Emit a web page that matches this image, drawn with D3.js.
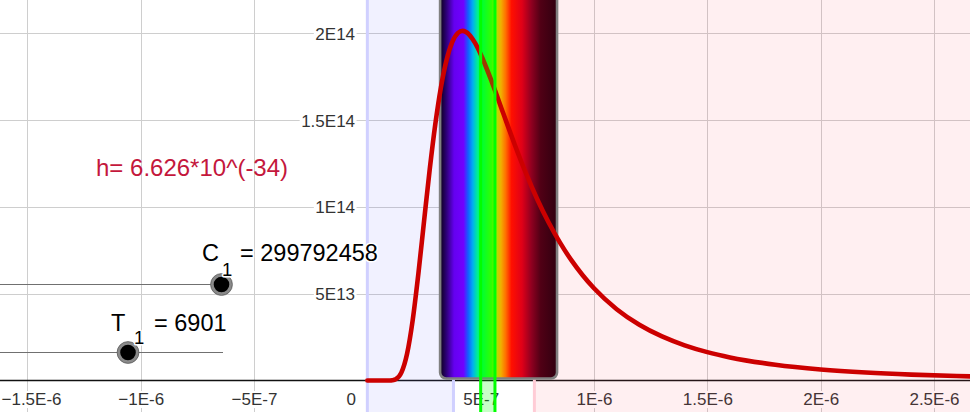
<!DOCTYPE html>
<html><head><meta charset="utf-8">
<script src="https://cdn.jsdelivr.net/npm/d3@7"></script>
<style>
body{margin:0;background:#fff;overflow:hidden}
svg{display:block}
text{font-family:"Liberation Sans",Arial,sans-serif}
</style>
</head><body>
<svg id="c" width="970" height="412"></svg>
<script>
// ---- data ----
// wavelength (micrometres) and spectral exitance (units of 1E14 W/m^3) (T1 = 6901)
const wavelengthUm = [0, 0.05, 0.1, 0.11, 0.125, 0.15, 0.175, 0.2, 0.225, 0.25, 0.275, 0.3, 0.325, 0.35, 0.375, 0.4, 0.42, 0.45, 0.475, 0.5, 0.55, 0.6, 0.65, 0.7, 0.75, 0.8, 0.85, 0.9, 0.95, 1.0, 1.1, 1.2, 1.3, 1.4, 1.5, 1.6, 1.8, 2.0, 2.2, 2.4, 2.6, 2.7];
const exitanceE14 = [0, 0, 0.0003, 0.0014, 0.007, 0.0453, 0.1527, 0.3473, 0.6136, 0.9155, 1.2135, 1.478, 1.6917, 1.8485, 1.9501, 2.0022, 2.014, 1.9913, 1.9444, 1.8796, 1.7175, 1.5378, 1.3597, 1.1934, 1.0431, 0.9102, 0.794, 0.6932, 0.6063, 0.5312, 0.4108, 0.3211, 0.2537, 0.2026, 0.16345, 0.1331, 0.09065, 0.06368, 0.04596, 0.03396, 0.02561, 0.02239];

const xTicks = [-1.5e-6, -1e-6, -5e-7, 0, 5e-7, 1e-6, 1.5e-6, 2e-6, 2.5e-6];
const xTickLabels = ["\u22121.5E-6", "\u22121E-6", "\u22125E-7", "0", "5E-7", "1E-6", "1.5E-6", "2E-6", "2.5E-6"];
const yTicks = [5e13, 1e14, 1.5e14, 2e14];
const yTickLabels = ["5E13", "1E14", "1.5E14", "2E14"];

const uvEdge = 3.8e-7;          // end of ultraviolet shading
const irEdge = 7.37e-7;         // start of infrared shading
const greenBand = [5e-7, 5.63e-7];
const spectrumRange = [3.21e-7, 8.37e-7];
const spectrumColors = [
  [0, "#0c0018"], [0.05, "#2a0070"], [0.12, "#6500f0"], [0.2, "#7000ff"], [0.24, "#1060ff"],
  [0.28, "#00b0f0"], [0.32, "#00f090"], [0.36, "#00ff40"], [0.44, "#40ff00"], [0.48, "#b0e000"],
  [0.52, "#f0b000"], [0.56, "#ff7000"], [0.61, "#ff1000"], [0.70, "#e00018"], [0.78, "#900020"],
  [0.86, "#500015"], [1.0, "#300010"]
];
const hLabel = "h= 6.626*10^(-34)";
const cValue = 299792458;
const tValue = 6901;

// ---- chart ----
const W = 970, H = 412;
const svg = d3.select("#c");
const x = d3.scaleLinear().domain([-1e-6, 1e-6]).range([140.7, 594]);
const y = d3.scaleLinear().domain([0, 2e14]).range([380.5, 33.3]);

svg.append("rect").attr("width", W).attr("height", H).attr("fill", "#fff");

// grid
const grid = svg.append("g").attr("stroke", "#cecece").attr("stroke-width", 1);
grid.selectAll("line.v").data(xTicks.filter(d => d !== 0)).join("line")
  .attr("x1", d => Math.round(x(d)) + 0.5).attr("x2", d => Math.round(x(d)) + 0.5)
  .attr("y1", 0).attr("y2", H);
grid.selectAll("line.h").data(yTicks).join("line")
  .attr("y1", d => Math.round(y(d)) + 0.5).attr("y2", d => Math.round(y(d)) + 0.5)
  .attr("x1", 0).attr("x2", W);

// x axis line
svg.append("line").attr("x1", 0).attr("x2", W).attr("y1", y(0)).attr("y2", y(0))
  .attr("stroke", "#111").attr("stroke-width", 1.4);

// axis labels
const xa = svg.append("g").attr("transform", `translate(0,${y(0)})`)
  .call(d3.axisBottom(x).tickValues(xTicks).tickSize(0).tickFormat((d, i) => xTickLabels[i]));
xa.select(".domain").remove();
xa.selectAll("text").attr("y", 24.5).attr("dy", 0)
  .attr("font-size", 17).attr("fill", "#333").attr("font-family", '"Liberation Sans",Arial,sans-serif');
xa.selectAll(".tick").filter(d => d === 0).select("text").attr("text-anchor", "end").attr("x", -12);
// keep the leftmost label inside the frame
xa.selectAll(".tick").each(function (d) {
  const t = d3.select(this).select("text");
  const b = t.node().getBBox();
  const left = x(d) + b.x;
  if (left < 1) t.attr("x", (+t.attr("x") || 0) + (1 - left));
});

const ya = svg.append("g").attr("transform", `translate(${x(0)},0)`)
  .call(d3.axisLeft(y).tickValues(yTicks).tickSize(0).tickPadding(12.3).tickFormat((d, i) => yTickLabels[i]));
ya.select(".domain").remove();
ya.selectAll("text").attr("font-size", 17).attr("fill", "#333").attr("dy", "0.35em")
  .attr("font-family", '"Liberation Sans",Arial,sans-serif');

[xa, ya].forEach(g => g.selectAll(".tick").each(function () {
  const t = d3.select(this).select("text");
  const b = t.node().getBBox();
  d3.select(this).insert("rect", "text").attr("x", b.x - 1.5).attr("y", b.y + 1).attr("width", b.width + 3)
    .attr("height", b.height - 2).attr("fill", "#fff");
}));

// sliders
const sliders = svg.append("g");
sliders.append("line").attr("x1", -5).attr("x2", 222).attr("y1", 284.5).attr("y2", 284.5).attr("stroke", "#707070").attr("stroke-width", 1.2);
sliders.append("line").attr("x1", -5).attr("x2", 223).attr("y1", 352.5).attr("y2", 352.5).attr("stroke", "#707070").attr("stroke-width", 1.2);
[[221.5, 284.5], [128, 352.5]].forEach(([cx, cy]) => {
  sliders.append("circle").attr("cx", cx).attr("cy", cy).attr("r", 9.3).attr("fill", "#000").attr("stroke", "#8a8a8a").attr("stroke-width", 3);
  sliders.append("circle").attr("cx", cx).attr("cy", cy).attr("r", 10.9).attr("fill", "none").attr("stroke", "#555").attr("stroke-width", 0.8);
});

// shaded regions
svg.append("rect").attr("x", x(0)).attr("y", 0).attr("width", x(uvEdge) - x(0)).attr("height", H)
  .attr("fill", "#6666ff").attr("fill-opacity", 0.095);
svg.append("rect").attr("x", x(irEdge)).attr("y", 0).attr("width", W - x(irEdge)).attr("height", H)
  .attr("fill", "#ff4060").attr("fill-opacity", 0.085);

// region boundary lines (under the spectrum picture)
const vlinesUnder = [[0, "#d0d0ff"], [uvEdge, "#d0d0ff"], [irEdge, "#ffccd6"]];
svg.selectAll("line.b").data(vlinesUnder).join("line").attr("class", "b")
  .attr("x1", d => x(d[0])).attr("x2", d => x(d[0])).attr("y1", 0).attr("y2", H)
  .attr("stroke", d => d[1]).attr("stroke-width", 3);

// spectrum box
const defs = svg.append("defs");
const grad = defs.append("linearGradient").attr("id", "spec").attr("x1", 0).attr("x2", 1).attr("y1", 0).attr("y2", 0);
grad.selectAll("stop").data(spectrumColors).join("stop")
  .attr("offset", d => d[0]).attr("stop-color", d => d[1]);
svg.append("rect").attr("x", x(spectrumRange[0])).attr("y", -10)
  .attr("width", x(spectrumRange[1]) - x(spectrumRange[0])).attr("height", 388.5)
  .attr("rx", 6).attr("fill", "url(#spec)").attr("stroke", "#808080").attr("stroke-width", 2.6);

// curve
const pts = wavelengthUm.map((w, i) => [w * 1e-6, exitanceE14[i] * 1e14]);
const line = d3.line().x(d => x(d[0])).y(d => y(d[1])).curve(d3.curveMonotoneX);
svg.append("path").datum(pts).attr("d", line).attr("fill", "none")
  .attr("stroke", "#cc0000").attr("stroke-width", 4.6).attr("stroke-linejoin", "round").attr("stroke-linecap", "round");

// green band
svg.append("rect").attr("x", x(greenBand[0])).attr("y", 0).attr("width", x(greenBand[1]) - x(greenBand[0])).attr("height", H)
  .attr("fill", "#00ff00").attr("fill-opacity", 0.22);
svg.selectAll("line.g").data(greenBand).join("line").attr("class", "g")
  .attr("x1", d => x(d)).attr("x2", d => x(d)).attr("y1", 0).attr("y2", H)
  .attr("stroke", "#00ff00").attr("stroke-width", 3);

// labels
svg.append("text").attr("x", 96).attr("y", 176).attr("font-size", 24).attr("fill", "#c4173c").text(hLabel);

function lab(xp, yp, txt, size) {
  return svg.append("text").attr("x", xp).attr("y", yp).attr("font-size", size).attr("fill", "#000")
    .attr("stroke", "#fff").attr("stroke-width", 3).attr("paint-order", "stroke").attr("stroke-linejoin", "round").text(txt);
}
lab(202, 260.5, "C", 23.5);
lab(222, 275.5, "1", 18.5);
lab(240, 260.5, "= " + cValue, 23.5);
lab(111, 331, "T", 23.5);
lab(134, 343.5, "1", 18.5);
lab(154, 331, "= " + tValue, 23.5);
</script>
</body></html>
